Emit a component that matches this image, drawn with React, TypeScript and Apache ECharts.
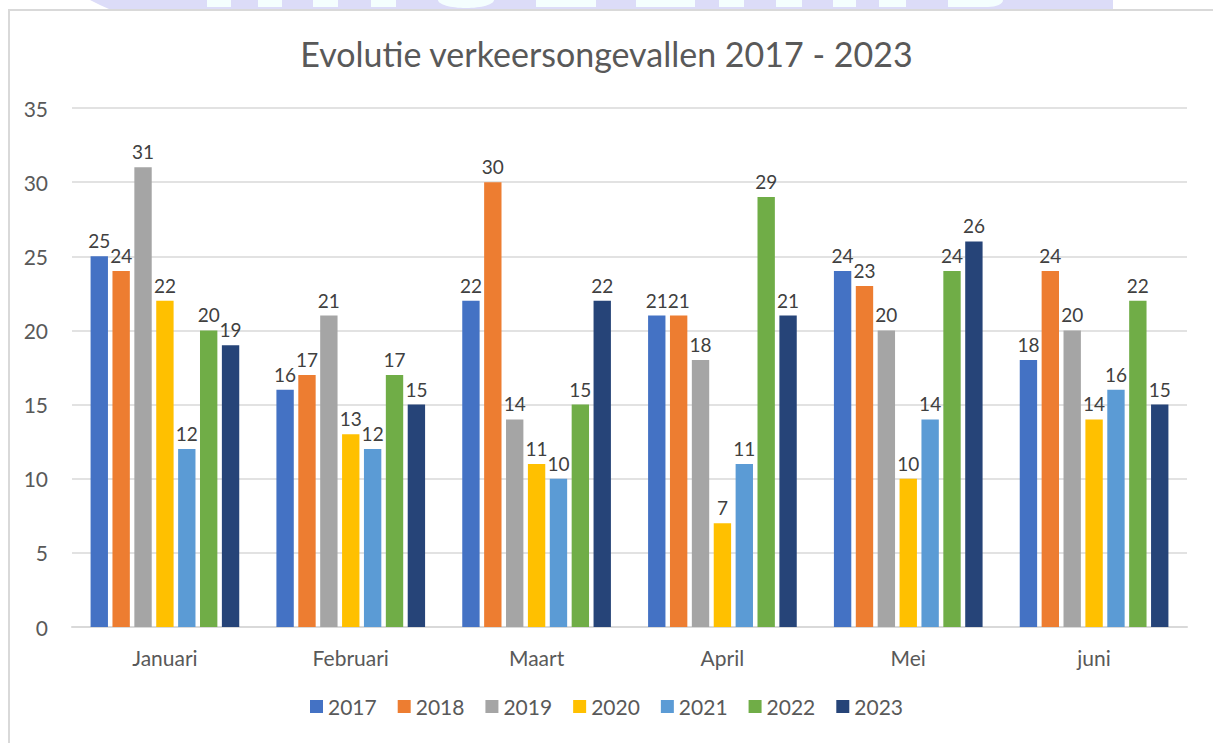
import React, { useEffect, useRef } from "react";
import * as echarts from "echarts";

const months = ["Januari", "Februari", "Maart", "April", "Mei", "juni"];
const years = ["2017", "2018", "2019", "2020", "2021", "2022", "2023"];
const v2017 = [25, 16, 22, 21, 24, 18];
const v2018 = [24, 17, 30, 21, 23, 24];
const v2019 = [31, 21, 14, 18, 20, 20];
const v2020 = [22, 13, 11, 7, 10, 14];
const v2021 = [12, 12, 10, 11, 14, 16];
const v2022 = [20, 17, 15, 29, 24, 22];
const v2023 = [19, 15, 22, 21, 26, 15];
const seriesValues = [v2017, v2018, v2019, v2020, v2021, v2022, v2023];
const colors = ["#4472C4", "#ED7D31", "#A5A5A5", "#FFC000", "#5B9BD5", "#70AD47", "#264478"];
const yMin = 0;
const yMax = 35;
const yInterval = 5;
const title = "Evolutie verkeersongevallen 2017 - 2023";

const FONT = "Lato";
const TXT = "#595959";

// decorative watermark fragments at the very top (x ranges)
const wmGaps = [
  [207, 231], [258, 282], [313, 338], [371, 396], [536, 596],
  [636, 695], [719, 744], [776, 802], [833, 856], [879, 906],
];

export default function App() {
  const ref = useRef<HTMLDivElement>(null);
  useEffect(() => {
    if (!ref.current) return;
    const chart = echarts.init(ref.current, null, { renderer: "svg" });
    const graphics: any[] = [
      {
        type: "polygon",
        silent: true,
        shape: { points: [[90, 0], [1113, 0], [1113, 9], [109, 9], [100, 5]] },
        style: { fill: "#dcdcf8" },
      },
      ...wmGaps.map(([a, b]) => ({
        type: "rect",
        silent: true,
        shape: { x: a, y: 0, width: b - a, height: 7 },
        style: { fill: "#f4fefe" },
      })),
      { type: "ellipse", silent: true, shape: { cx: 466, cy: 0, rx: 28, ry: 8 }, style: { fill: "#f4fefe" } },
      { type: "rect", silent: true, shape: { x: 948, y: 0, width: 40, height: 7 }, style: { fill: "#f4fefe" } },
      { type: "ellipse", silent: true, shape: { cx: 988, cy: 0, rx: 15, ry: 7 }, style: { fill: "#f4fefe" } },
      {
        type: "line",
        silent: true,
        shape: { x1: 8, y1: 10, x2: 1213, y2: 10 },
        style: { stroke: "#d9d9d9", lineWidth: 2 },
      },
      {
        type: "line",
        silent: true,
        shape: { x1: 9, y1: 10, x2: 9, y2: 743 },
        style: { stroke: "#d9d9d9", lineWidth: 2 },
      },
    ];
    chart.setOption({
      animation: false,
      backgroundColor: "#ffffff",
      title: {
        text: title,
        left: "center",
        top: 31,
        textStyle: { fontFamily: FONT, fontSize: 34, fontWeight: "normal", color: TXT },
      },
      grid: { left: 72, right: 26, top: 108, bottom: 116, containLabel: false },
      legend: {
        data: years,
        bottom: 21,
        left: "center",
        icon: "rect",
        itemWidth: 13,
        itemHeight: 13,
        itemGap: 21,
        textStyle: { fontFamily: FONT, fontSize: 21, color: TXT },
      },
      xAxis: {
        type: "category",
        data: months,
        axisTick: { show: false },
        axisLine: { lineStyle: { color: "#d9d9d9", width: 2 } },
        axisLabel: { fontFamily: FONT, fontSize: 21, color: TXT, margin: 20 },
      },
      yAxis: {
        type: "value",
        min: yMin,
        max: yMax,
        interval: yInterval,
        axisLine: { show: false },
        axisTick: { show: false },
        splitLine: { lineStyle: { color: "#d9d9d9", width: 1.5 } },
        axisLabel: { fontFamily: FONT, fontSize: 21, color: TXT, margin: 24 },
      },
      series: years.map((y, i) => ({
        name: y,
        type: "bar",
        data: seriesValues[i],
        barCategoryGap: "20%",
        barGap: "26%",
        itemStyle: { color: colors[i] },
        label: {
          show: true,
          position: "top",
          distance: 6,
          fontFamily: FONT,
          fontSize: 19,
          color: "#404040",
        },
      })),
      graphic: graphics,
    });
    return () => chart.dispose();
  }, []);
  return (
    <div
      ref={ref}
      style={{ position: "fixed", left: 0, top: 0, width: 1213, height: 743 }}
    />
  );
}
